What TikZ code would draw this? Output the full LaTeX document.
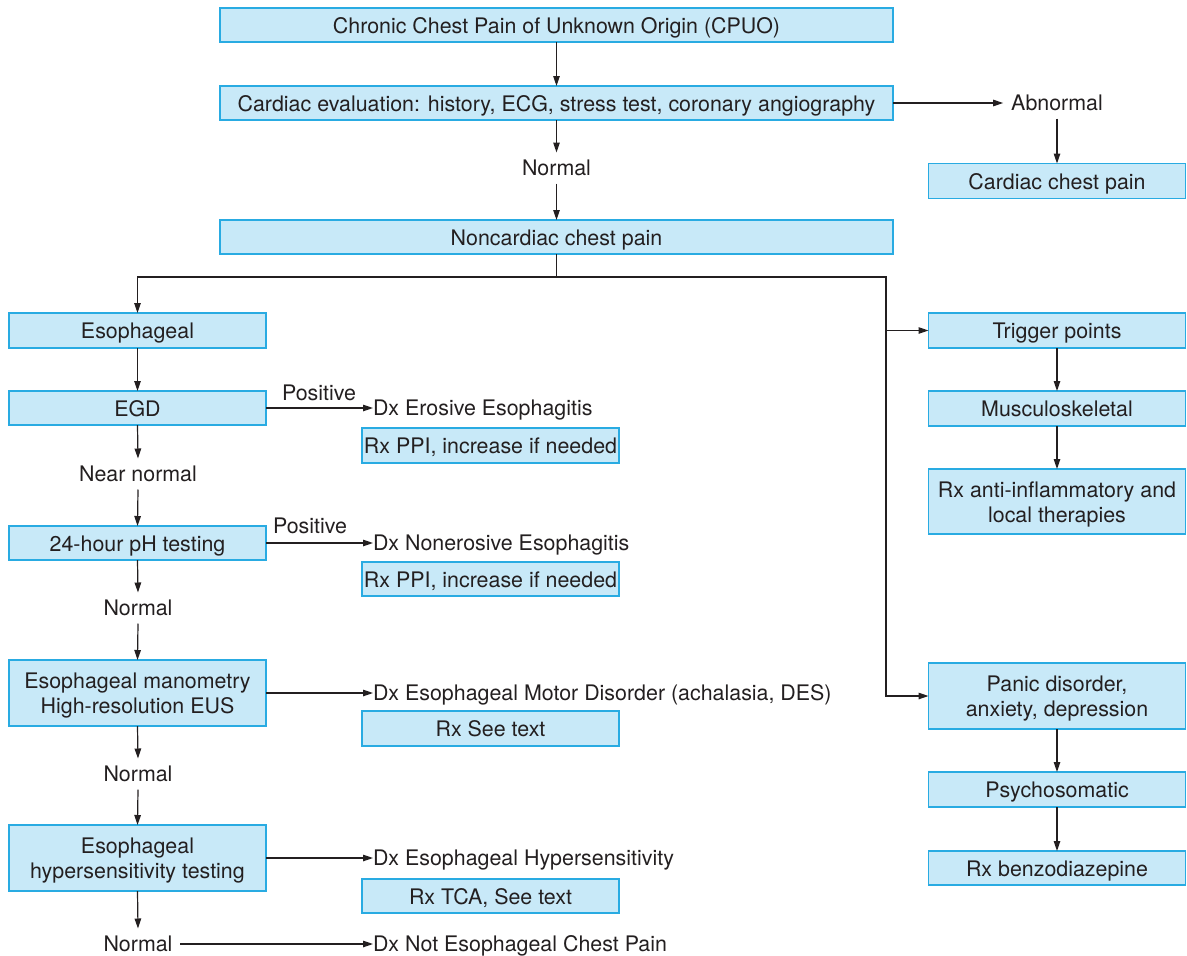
\documentclass[tikz,border=0pt]{standalone}
\usepackage{fontspec}
\setmainfont{TeX Gyre Heros}
\usetikzlibrary{arrows.meta}
\definecolor{boxfill}{RGB}{200,233,248}
\definecolor{boxline}{RGB}{41,171,226}
\definecolor{ink}{RGB}{35,31,32}
\begin{document}
\begin{tikzpicture}[x=1pt,y=-1pt,
  every node/.style={font=\fontsize{21.4}{25}\selectfont, text=ink},
  box/.style={draw=boxline, fill=boxfill, line width=1.5pt, inner sep=0pt, outer sep=0pt, align=center},
  wide/.style={box, minimum width=673pt, minimum height=34pt, text height=16pt, text depth=0pt},
  col/.style={box, minimum width=257pt, minimum height=34pt, text height=16pt, text depth=0pt},
  tall/.style={box, minimum width=257pt},
  mtxt/.style={inner sep=0pt, outer sep=0pt, align=center},
  lbl/.style={inner sep=0pt, outer sep=8pt, text height=15pt, text depth=0pt},
  dxl/.style={inner sep=0pt, outer sep=0pt, text height=15pt, text depth=0pt, anchor=west},
  arr/.style={draw=ink, line width=1.2pt, -{Triangle[length=10pt,width=6.5pt]}},
  ln/.style={draw=ink, line width=1.2pt}]
\useasboundingbox (0,0) rectangle (1187,956);

% top column
\node[wide] (cpuo) at (556.5,25) {Chronic Chest Pain of Unknown Origin (CPUO)};
\node[wide] (card) at (556.5,103) {Cardiac evaluation: history, ECG, stress test, coronary angiography};
\node[lbl] (abn) at (1057,103) {Abnormal};
\node[col, minimum height=35pt] (ccp) at (1057,181) {Cardiac chest pain};
\node[lbl] (n1) at (556.5,168) {Normal};
\node[wide] (nccp) at (556.5,237) {Noncardiac chest pain};

% left column
\node[col, minimum height=35pt] (eso) at (137.5,330.5) {Esophageal};
\node[col] (egd) at (137.5,408) {EGD};
\node[lbl] (pos1) at (319,393) {Positive};
\node[dxl] (dx1) at (373,408) {Dx Erosive Esophagitis};
\node[col, minimum height=35pt] (rx1) at (490.5,445.5) {Rx PPI, increase if needed};
\node[lbl] (nn) at (138,474) {Near normal};
\node[col] (ph) at (137.5,543) {24-hour pH testing};
\node[lbl] (pos2) at (310,526) {Positive};
\node[dxl] (dx2) at (373,543) {Dx Nonerosive Esophagitis};
\node[col] (rx2) at (490.5,579) {Rx PPI, increase if needed};
\node[lbl] (n2) at (138,608) {Normal};
\node[tall, minimum height=66pt] (mano) at (137.5,693) {};
\node[mtxt] (manot) at (137.5,695.5) {Esophageal manometry\\High-resolution EUS};
\node[dxl] (dx3) at (373,693) {Dx Esophageal Motor Disorder (achalasia, DES)};
\node[col, minimum height=35pt] (rx3) at (490.5,728.5) {Rx See text};
\node[lbl] (n3) at (138,774) {Normal};
\node[tall, minimum height=66pt] (hyp) at (137.5,858) {};
\node[mtxt] (hypt) at (137.5,860.5) {Esophageal\\hypersensitivity testing};
\node[dxl] (dx4) at (373,858) {Dx Esophageal Hypersensitivity};
\node[col] (rx4) at (490.5,896) {Rx TCA, See text};
\node[lbl] (n4) at (138,944) {Normal};
\node[dxl] (dx5) at (373,944) {Dx Not Esophageal Chest Pain};

% right column
\node[col, minimum height=35pt] (trig) at (1057,330.5) {Trigger points};
\node[col, minimum height=35pt] (musc) at (1057,408.5) {Musculoskeletal};
\node[tall, minimum height=65pt] (rxai) at (1057,501.5) {};
\node[mtxt] (rxait) at (1057,504) {Rx anti-inflammatory and\\local therapies};
\node[tall, minimum height=66pt] (panic) at (1057,696) {};
\node[mtxt] (panict) at (1057,698.5) {Panic disorder,\\anxiety, depression};
\node[col, minimum height=35pt] (psy) at (1057,789.5) {Psychosomatic};
\node[col] (benzo) at (1057,868) {Rx benzodiazepine};

% connectors, top
\draw[arr] (cpuo.south) -- (card.north);
\draw[arr] (card.east) -- (abn.west);
\draw[arr] (abn.south) -- (ccp.north);
\draw[arr] (card.south) -- (n1.north);
\draw[arr] (n1.south) -- (nccp.north);

% split
\coordinate (j) at (556.5,277);
\coordinate (rj) at (886,277);
\draw[ln] (nccp.south) -- (j);
\draw[arr] (j) -| (eso.north);
\draw[arr] (j) -- (rj) |- (panic.west);
\draw[arr] (rj |- trig.west) -- (trig.west);

% left chain
\draw[arr] (eso.south) -- (egd.north);
\draw[arr] (egd.east) -- (dx1.west);
\draw[arr] (egd.south) -- (nn.north);
\draw[arr] (nn.south) -- (ph.north);
\draw[arr] (ph.east) -- (dx2.west);
\draw[arr] (ph.south) -- (n2.north);
\draw[arr] (n2.south) -- (mano.north);
\draw[arr] (mano.east) -- (dx3.west);
\draw[arr] (mano.south) -- (n3.north);
\draw[arr] (n3.south) -- (hyp.north);
\draw[arr] (hyp.east) -- (dx4.west);
\draw[arr] (hyp.south) -- (n4.north);
\draw[arr] (n4.east) -- (dx5.west);

% right chain
\draw[arr] (trig.south) -- (musc.north);
\draw[arr] (musc.south) -- (rxai.north);
\draw[arr] (panic.south) -- (psy.north);
\draw[arr] (psy.south) -- (benzo.north);
\end{tikzpicture}
\end{document}
